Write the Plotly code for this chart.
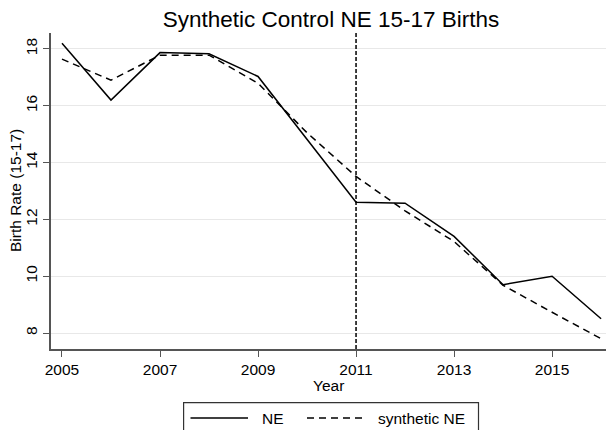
import plotly.graph_objects as go

# Teen (15-17) birth rate, Nebraska vs. its synthetic control
years = [2005, 2006, 2007, 2008, 2009, 2010, 2011, 2012, 2013, 2014, 2015, 2016]
ne_rate = [18.2, 16.2, 17.87, 17.83, 17.03, 14.8, 12.6, 12.57, 11.4, 9.7, 10.0, 8.5]
synthetic_rate = [17.64, 16.9, 17.78, 17.78, 16.79, 15.05, 13.51, 12.3, 11.22, 9.68, 8.73, 7.8]
treatment_year = 2011
x_ticks = [2005, 2007, 2009, 2011, 2013, 2015]
y_ticks = [8, 10, 12, 14, 16, 18]

FONT = "Liberation Sans, Arial, Helvetica, sans-serif"
W, H = 606, 430
ML, MR, MT, MB = 51, 0, 33, 81
PW, PH = W - ML - MR, H - MT - MB


def px_x(px):
    return (px - ML) / PW


def px_y(py):
    return (H - MB - py) / PH


fig = go.Figure()
fig.add_trace(go.Scatter(x=years, y=ne_rate, mode="lines", name="NE",
                         line=dict(color="black", width=1.5), showlegend=False))
fig.add_trace(go.Scatter(x=years, y=synthetic_rate, mode="lines", name="synthetic NE",
                         line=dict(color="black", width=1.5, dash="7px,5px"),
                         showlegend=False))

shapes = [
    dict(type="line", xref="x", yref="paper", x0=treatment_year, x1=treatment_year,
         y0=0, y1=1, line=dict(color="black", width=1.5, dash="4px,2px")),
    # legend box
    dict(type="rect", xref="paper", yref="paper",
         x0=px_x(183.6), x1=px_x(478.5), y0=px_y(445), y1=px_y(402.7),
         line=dict(color="#333333", width=1.2), fillcolor="white", layer="above"),
    dict(type="line", xref="paper", yref="paper",
         x0=px_x(190.5), x1=px_x(248), y0=px_y(418), y1=px_y(418),
         line=dict(color="black", width=1.5)),
    dict(type="line", xref="paper", yref="paper",
         x0=px_x(307), x1=px_x(367), y0=px_y(418), y1=px_y(418),
         line=dict(color="black", width=1.5, dash="7px,5px")),
]

annotations = [
    dict(text="NE", xref="paper", yref="paper", x=px_x(260), y=px_y(418),
         xanchor="left", yanchor="middle", showarrow=False,
         font=dict(family=FONT, size=15.5, color="black")),
    dict(text="synthetic NE", xref="paper", yref="paper", x=px_x(376), y=px_y(418),
         xanchor="left", yanchor="middle", showarrow=False,
         font=dict(family=FONT, size=15.5, color="black")),
    dict(text="Birth Rate (15-17)", xref="paper", yref="paper", x=px_x(15), y=0.5,
         xanchor="center", yanchor="middle", textangle=-90, showarrow=False,
         font=dict(family=FONT, size=15.5, color="black")),
    dict(text="Year", xref="paper", yref="paper", x=0.5, y=px_y(385),
         xanchor="center", yanchor="middle", showarrow=False,
         font=dict(family=FONT, size=15.5, color="black")),
]

fig.update_layout(
    width=W, height=H,
    margin=dict(l=ML, r=MR, t=MT, b=MB, pad=0),
    paper_bgcolor="white", plot_bgcolor="white",
    font=dict(family=FONT, size=15, color="black"),
    title=dict(text="Synthetic Control NE 15-17 Births", xref="paper", x=px_x(331),
               xanchor="center", y=1 - 19 / H, yanchor="middle", yref="container",
               font=dict(family=FONT, size=22.5, color="black")),
    shapes=shapes,
    annotations=annotations,
    showlegend=False,
)

fig.update_xaxes(range=[2004.776, 2016.1], tickvals=x_ticks, ticks="outside", ticklen=6,
                 tickwidth=1.2, tickcolor="#555555", showline=True, linecolor="#555555",
                 linewidth=1.5, showgrid=False, zeroline=False,
                 tickfont=dict(family=FONT, size=15.5, color="black"))
fig.update_yaxes(range=[7.437, 18.56], tickvals=y_ticks, ticks="outside", ticklen=6,
                 tickwidth=1.2, tickcolor="#555555", showline=True, linecolor="#555555",
                 linewidth=1.5, showgrid=True, gridcolor="#e8e8e8", gridwidth=1,
                 zeroline=False, tickangle=-90,
                 tickfont=dict(family=FONT, size=15.5, color="black"))

fig.write_html("out.html")
